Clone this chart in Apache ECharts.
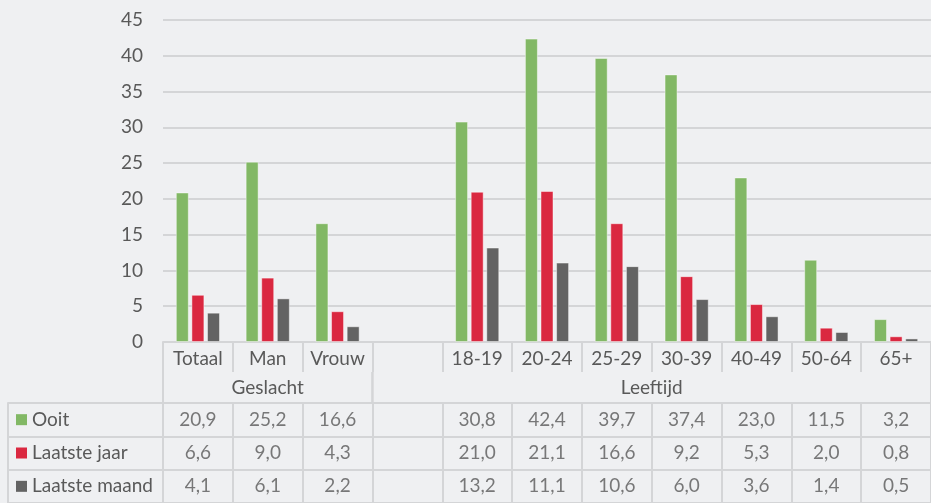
<!DOCTYPE html>
<html><head><meta charset="utf-8">
<script src="https://cdn.jsdelivr.net/npm/echarts@6/dist/echarts.min.js"></script>
<style>html,body{margin:0;padding:0;background:#EFF0F2}#c{width:931px;height:503px}</style>
</head><body><div id="c"></div>
<script>
const categories = ['Totaal','Man','Vrouw','','18-19','20-24','25-29','30-39','40-49','50-64','65+'];
const seriesNames = ['Ooit','Laatste jaar','Laatste maand'];
const ooit = [20.9,25.2,16.6,null,30.8,42.4,39.7,37.4,23.0,11.5,3.2];
const laatsteJaar = [6.6,9.0,4.3,null,21.0,21.1,16.6,9.2,5.3,2.0,0.8];
const laatsteMaand = [4.1,6.1,2.2,null,13.2,11.1,10.6,6.0,3.6,1.4,0.5];
const groups = [{name:'Geslacht', from:0, to:2},{name:'Leeftijd', from:3, to:10}];
const yMin = 0, yMax = 45, yInterval = 5;

const colors = ['#82B865','#DA2840','#636363'];
const txt = '#595959';
const lineC = '#D4D5D7';
const FONT = 'Lato';
const FS = 19;

const L = 163, W = 781, TOP = 20, PH = 322;
const CAT_H = 30, GRP_H = 31, ROW_H = 34.5;
const T2 = TOP + PH + CAT_H + GRP_H;

const allSeries = [ooit, laatsteJaar, laatsteMaand];
const tableData = [];
allSeries.forEach((arr, r) => arr.forEach((v, c) => { if (v !== null) tableData.push([c, r, v]); }));

const rich = {t:{fontFamily:FONT,fontSize:FS,color:txt,padding:[0,0,0,5]}};
colors.forEach((col,i)=>{ rich['s'+i] = {width:11,height:11,backgroundColor:col}; });

const option = {
  backgroundColor:'#EFF0F2',
  animation:false,
  textStyle:{fontFamily:FONT},
  grid:[
    {left:L, width:W, top:TOP, height:PH},
    {left:L, width:W, top:T2, height:ROW_H*3}
  ],
  xAxis:[
    {type:'category', gridIndex:0, data:categories,
     axisLine:{show:true,lineStyle:{color:lineC,width:2}},
     axisTick:{show:true,length:CAT_H,interval:0,lineStyle:{color:lineC,width:2}},
     axisLabel:{interval:0,margin:7,fontFamily:FONT,fontSize:FS,color:txt},
     splitLine:{show:false}},
    {type:'category', gridIndex:1, data:categories,
     axisLine:{show:false}, axisTick:{show:false}, axisLabel:{show:false},
     splitLine:{show:true,interval:0,lineStyle:{color:lineC,width:2}}}
  ],
  yAxis:[
    {type:'value', gridIndex:0, min:yMin, max:yMax, interval:yInterval,
     axisLine:{show:false}, axisTick:{show:false},
     axisLabel:{margin:20,fontFamily:FONT,fontSize:FS,color:txt,padding:[4,0,0,0]},
     splitLine:{show:true,lineStyle:{color:lineC,width:2}}},
    {type:'category', gridIndex:1, data:seriesNames, inverse:true,
     axisLine:{show:true,lineStyle:{color:lineC,width:2}},
     axisTick:{show:true,length:L-8,interval:0,lineStyle:{color:lineC,width:2}},
     axisLabel:{align:'left',margin:L-16,interval:0,
       formatter:(v,i)=>'{s'+i+'|}{t|'+v+'}', rich:rich},
     splitLine:{show:true,interval:0,lineStyle:{color:lineC,width:2}}},
    {type:'category', gridIndex:1, data:seriesNames, inverse:true, offset:L-8, position:'left',
     axisLine:{show:true,lineStyle:{color:lineC,width:2}},
     axisTick:{show:false}, axisLabel:{show:false}, splitLine:{show:false}}
  ],
  series:[
    ...allSeries.map((arr,i)=>({
      name:seriesNames[i], type:'bar', xAxisIndex:0, yAxisIndex:0, data:arr,
      barWidth:13, barGap:'20%',
      itemStyle:{color:colors[i], borderColor:'rgba(255,255,255,0.45)', borderWidth:1}
    })),
    {type:'scatter', xAxisIndex:1, yAxisIndex:1, data:tableData, symbolSize:1,
     itemStyle:{color:'rgba(0,0,0,0)'},
     label:{show:true,position:'inside',fontFamily:FONT,fontSize:FS,color:txt,
       formatter:p=>p.value[2].toFixed(1).replace('.',',')}}
  ]
};

const chart = echarts.init(document.getElementById('c'));
chart.setOption(option);

const cx = i => chart.convertToPixel({xAxisIndex:0}, i);
const band = cx(1) - cx(0);
const y0 = chart.convertToPixel({yAxisIndex:0}, 0);
const gfx = [];
groups.forEach(g=>{
  const a = cx(g.from) - band/2, b = cx(g.to) + band/2;
  [a,b].forEach(x=>gfx.push({type:'line',shape:{x1:x,y1:y0+CAT_H,x2:x,y2:y0+CAT_H+GRP_H},
    style:{stroke:lineC,lineWidth:2}}));
  gfx.push({type:'text',x:(a+b)/2,y:y0+CAT_H+GRP_H/2,
    style:{text:g.name,fontFamily:FONT,fontSize:FS,fill:txt,align:'center',verticalAlign:'middle'}});
});
chart.setOption({graphic:gfx});
</script></body></html>
